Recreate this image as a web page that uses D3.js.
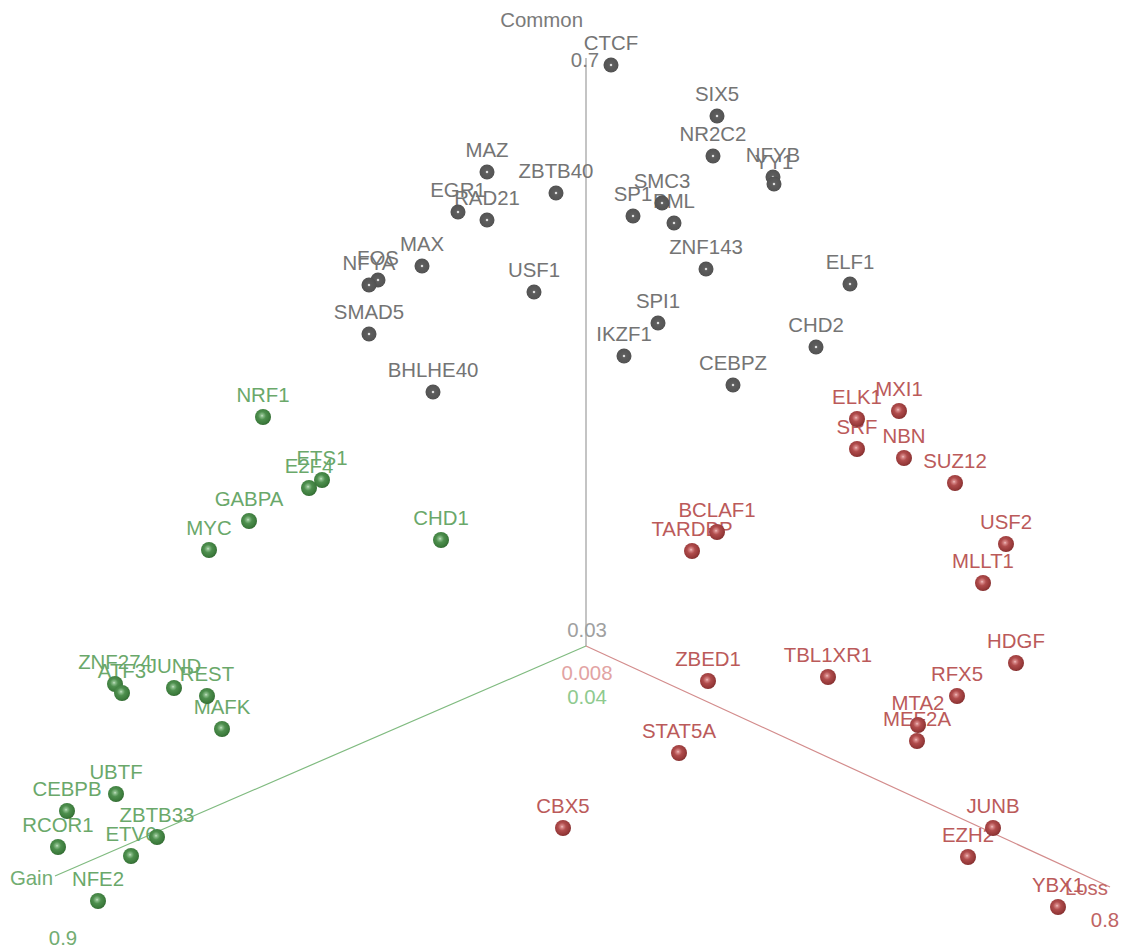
<!DOCTYPE html>
<html>
<head>
<meta charset="utf-8">
<script src="https://cdn.jsdelivr.net/npm/d3@7"></script>
<style>
  html, body { margin: 0; padding: 0; background: #fff; }
  svg { display: block; }
  text { font-family: "Liberation Sans", Arial, Helvetica, sans-serif; }
</style>
</head>
<body>
<svg id="chart" width="1127" height="951"></svg>
<script>
// Projected positions (view-plane units) of each factor in the Gain / Loss / Common space.
const commonGenes = ["CTCF","SIX5","NR2C2","NFYB","YY1","MAZ","ZBTB40","EGR1","RAD21","SP1","SMC3","PML",
  "ZNF143","ELF1","USF1","MAX","FOS","NFYA","SMAD5","BHLHE40","SPI1","IKZF1","CHD2","CEBPZ"];
const commonU = [2.5,13.1,12.7,18.7,18.8,-9.9,-3.0,-12.8,-9.9,4.7,7.6,8.8,
  12.0,26.4,-5.2,-16.4,-20.8,-21.7,-21.7,-15.3,7.2,3.8,23.0,14.7];
const commonV = [58.1,53.0,49.0,46.9,46.2,47.4,45.3,43.4,42.6,43.0,44.3,42.3,
  37.7,36.2,35.4,38.0,36.6,36.1,31.2,25.4,32.3,29.0,29.9,26.1];

const gainGenes = ["NRF1","ETS1","E2F4","GABPA","MYC","CHD1","ZNF274","ATF3","JUND","REST","MAFK",
  "UBTF","CEBPB","RCOR1","ZBTB33","ETV6","NFE2"];
const gainU = [-32.3,-26.4,-27.7,-33.7,-37.7,-14.5,-47.1,-46.4,-41.2,-37.9,-36.4,
  -47.0,-51.9,-52.8,-42.9,-45.5,-48.8];
const gainV = [22.9,16.6,15.8,12.5,9.6,10.6,-3.8,-4.7,-4.2,-5.0,-8.3,
  -14.8,-16.5,-20.1,-19.1,-21.0,-25.5];

const lossGenes = ["ELK1","MXI1","SRF","NBN","SUZ12","USF2","MLLT1","BCLAF1","TARDBP","ZBED1","TBL1XR1",
  "HDGF","RFX5","MTA2","MEF2A","STAT5A","CBX5","JUNB","EZH2","YBX1"];
const lossU = [27.1,31.3,27.1,31.8,36.9,42.0,39.7,13.1,10.6,12.2,24.2,
  43.0,37.1,33.2,33.1,9.3,-2.3,40.7,38.2,47.2];
const lossV = [22.7,23.5,19.7,18.8,16.3,10.2,6.3,11.4,9.5,-3.5,-3.1,
  -1.7,-5.0,-7.9,-9.5,-10.7,-18.2,-18.2,-21.1,-26.1];

// Axis end points in the view plane (all axes start at the origin).
const axisNames = ["Common","Gain","Loss"];
const axisEndU = [0, -53.1, 52.4];
const axisEndV = [58.8, -23.0, -24.1];

// Axis end labels and tick values.
const axisTitleU = [-0.3, -53.3, 52.2];
const axisTitleV = [62.6, -23.2, -24.2];
const tickLabels = ["0.7","0.03","0.008","0.04","0.9","0.8"];
const tickAxis   = ["Common","Common","Loss","Gain","Gain","Loss"];
const tickU = [-0.1, 0.1, 0.1, 0.1, -52.3, 51.9];
const tickV = [58.6, 1.6, -2.7, -5.1, -29.2, -27.4];

const W = 1127, H = 951;
const x = d3.scaleLinear().domain([-58.6, 54.1]).range([0, W]);
const y = d3.scaleLinear().domain([64.6, -30.5]).range([0, H]);
const FS = 20.4;

const style = {
  Common: { line: "#c4c4c4", lineW: 2, title: "#7a7a7a", label: "#747474", tick: ["#a0a0a0", "#ababab"], grad: "gGray" },
  Gain:   { line: "#80bb80", lineW: 1.2, title: "#72ad72", label: "#6aa86a", tick: ["#8fca8f", "#72ad72"], grad: "gGreen" },
  Loss:   { line: "#d38c8c", lineW: 1.2, title: "#c06464", label: "#bb5a5a", tick: ["#e2a3a3", "#c06464"], grad: "gRed" }
};

const svg = d3.select("#chart");
const defs = svg.append("defs");

function sphereGrad(id, stops, cx, cy) {
  const g = defs.append("radialGradient").attr("id", id)
    .attr("cx", cx).attr("cy", cy).attr("r", "0.62").attr("fx", cx).attr("fy", cy);
  stops.forEach(s => g.append("stop").attr("offset", s[0]).attr("stop-color", s[1]));
}
sphereGrad("gGray", [[0, "#f2f2f2"], [0.08, "#dcdcdc"], [0.18, "#5e5e5e"], [0.7, "#555"], [1, "#404040"]], "0.5", "0.5");
sphereGrad("gRed", [[0, "#f3caca"], [0.12, "#d98a8a"], [0.4, "#b04c4c"], [0.8, "#953838"], [1, "#7a2828"]], "0.44", "0.42");
sphereGrad("gGreen", [[0, "#cfe8cf"], [0.12, "#8ec08e"], [0.4, "#4e8f4e"], [0.8, "#3b7a3b"], [1, "#2b612b"]], "0.44", "0.42");

// Axes
const axes = axisNames.map((n, i) => ({ name: n, u: axisEndU[i], v: axisEndV[i], tu: axisTitleU[i], tv: axisTitleV[i] }));
svg.append("g").selectAll("line").data(axes).join("line")
  .attr("x1", x(0)).attr("y1", y(0))
  .attr("x2", d => x(d.u)).attr("y2", d => y(d.v))
  .attr("stroke", d => style[d.name].line)
  .attr("stroke-width", d => style[d.name].lineW);

// Axis titles (right-aligned at the axis end)
svg.append("g").selectAll("text").data(axes).join("text")
  .attr("x", d => x(d.tu)).attr("y", d => y(d.tv))
  .attr("text-anchor", "end").attr("dominant-baseline", "central")
  .attr("font-size", FS)
  .attr("fill", d => style[d.name].title)
  .text(d => d.name);

// Tick values at the axis ends
const ticks = tickLabels.map((t, i) => ({ t, axis: tickAxis[i], u: tickU[i], v: tickV[i] }));
svg.append("g").selectAll("text").data(ticks).join("text")
  .attr("x", d => x(d.u)).attr("y", d => y(d.v))
  .attr("text-anchor", "middle").attr("dominant-baseline", "central")
  .attr("font-size", FS)
  .attr("fill", d => {
    const inner = Math.abs(d.u) < 1 && d.v < 5;
    return inner ? style[d.axis].tick[0] : style[d.axis].title;
  })
  .text(d => d.t);

// Points
const points = [];
commonGenes.forEach((g, i) => points.push({ name: g, group: "Common", u: commonU[i], v: commonV[i] }));
gainGenes.forEach((g, i) => points.push({ name: g, group: "Gain", u: gainU[i], v: gainV[i] }));
lossGenes.forEach((g, i) => points.push({ name: g, group: "Loss", u: lossU[i], v: lossV[i] }));

svg.append("g").selectAll("text").data(points).join("text")
  .attr("x", d => x(d.u)).attr("y", d => y(d.v) - 15)
  .attr("text-anchor", "middle")
  .attr("font-size", FS)
  .attr("fill", d => style[d.group].label)
  .text(d => d.name);

svg.append("g").selectAll("circle").data(points).join("circle")
  .attr("cx", d => x(d.u)).attr("cy", d => y(d.v))
  .attr("r", d => d.group === "Common" ? 7.5 : 8)
  .attr("fill", d => `url(#${style[d.group].grad})`);
</script>
</body>
</html>
